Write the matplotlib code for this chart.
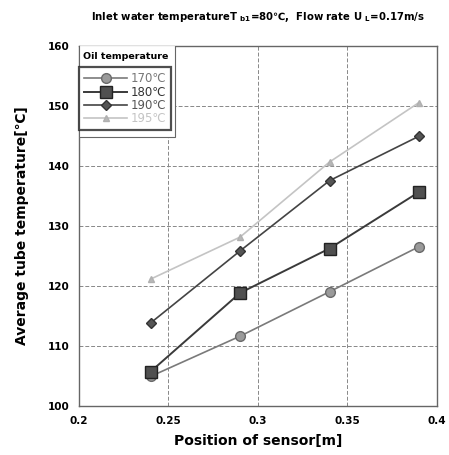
import matplotlib
matplotlib.use("Agg")
import matplotlib.pyplot as plt
from matplotlib.patches import Rectangle

# sensor positions [m]
positions = [0.24, 0.29, 0.34, 0.39]

# average tube temperature [deg C] for each oil temperature
temp_170 = [104.9, 111.6, 119.0, 126.5]
temp_180 = [105.7, 118.8, 126.2, 135.6]
temp_190 = [113.8, 125.8, 137.5, 144.9]
temp_195 = [121.1, 128.1, 140.6, 150.5]

labels = ["170\u2103", "180\u2103", "190\u2103", "195\u2103"]

x_ticks = [0.2, 0.25, 0.3, 0.35, 0.4]
x_tick_labels = ["0.2", "0.25", "0.3", "0.35", "0.4"]
y_ticks = [100, 110, 120, 130, 140, 150, 160]

plt.rcParams["font.family"] = ["DejaVu Sans"]
plt.rcParams["font.weight"] = "bold"

fig = plt.figure(figsize=(4.49, 4.55), dpi=100)
ax = fig.add_axes([0.176, 0.108, 0.797, 0.792])

ax.plot(positions, temp_170, color="#7a7a7a", lw=1.2, marker="o", ms=7,
        mfc="#9a9a9a", mec="#6a6a6a", label=labels[0])
ax.plot(positions, temp_180, color="#3a3a3a", lw=1.4, marker="s", ms=8,
        mfc="#505050", mec="#222222", label=labels[1])
ax.plot(positions, temp_190, color="#444444", lw=1.2, marker="D", ms=5,
        mfc="#555555", mec="#333333", label=labels[2])
ax.plot(positions, temp_195, color="#c4c4c4", lw=1.2, marker="^", ms=5,
        mfc="#b8b8b8", mec="#b0b0b0", label=labels[3])

ax.set_xlim(0.2, 0.4)
ax.set_ylim(100, 160)
ax.set_xticks(x_ticks)
ax.set_xticklabels(x_tick_labels)
ax.set_yticks(y_ticks)
ax.tick_params(length=0, labelsize=7.5, pad=7)
for lab in ax.get_xticklabels() + ax.get_yticklabels():
    lab.set_fontweight("bold")

ax.grid(True, color="#888888", linestyle=(0, (4, 2)), lw=0.7)
for sp in ax.spines.values():
    sp.set_color("#666666")
    sp.set_linewidth(1.0)

ax.set_xlabel("Position of sensor[m]", fontsize=10, fontweight="bold", labelpad=6)
ax.set_ylabel("Average tube temperature[\u2103]", fontsize=10, fontweight="bold", labelpad=13)

fig.text(0.575, 0.962,
         "Inlet water temperatureT $_{\\mathbf{b1}}$=80\u2103,  Flow rate U $_{\\mathbf{L}}$=0.17m/s",
         ha="center", va="center", fontsize=7.3, fontweight="bold")

# legend with a separate title cell
ax.add_patch(Rectangle((0.0, 0.745), 0.268, 0.255, transform=ax.transAxes,
                       fill=True, fc="white", ec="#666666", lw=0.8, zorder=4))
ax.text(0.012, 0.97, "Oil temperature", transform=ax.transAxes, fontsize=6.8,
        fontweight="bold", va="center", ha="left", zorder=5)
leg = ax.legend(loc="upper left", bbox_to_anchor=(0.0, 0.94), fontsize=8.5,
                frameon=True, fancybox=False, borderpad=0.45, labelspacing=0.02,
                handlelength=3.6, handletextpad=0.3, borderaxespad=0)
leg.get_frame().set_edgecolor("#222222")
leg.get_frame().set_linewidth(1.6)
leg.set_zorder(6)
for t, c in zip(leg.get_texts(), ["#777777", "#333333", "#555555", "#c4c4c4"]):
    t.set_color(c)
    t.set_fontweight("normal")

fig.savefig("out.png", dpi=100)
